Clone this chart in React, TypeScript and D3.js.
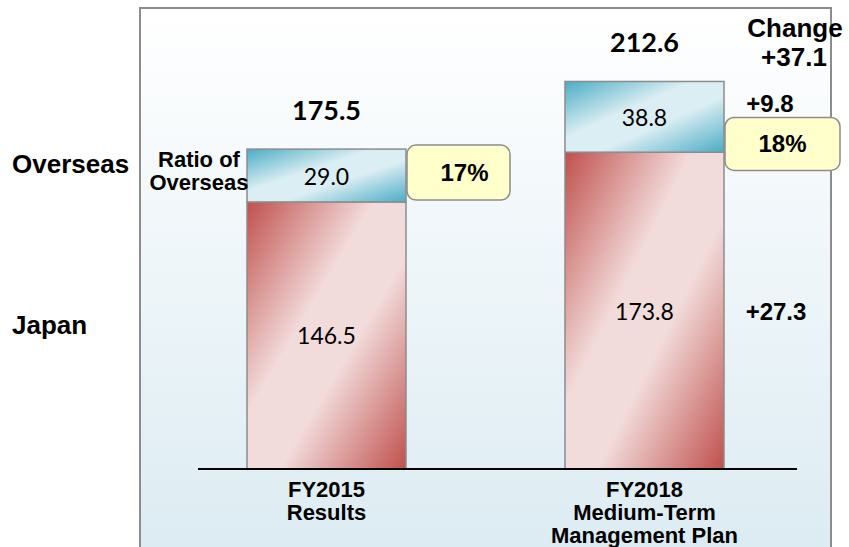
import { scaleBand, scaleLinear } from "d3"

// values (sales, billion yen)
const categories = ["FY2015", "FY2018"]
const categoryLines = [["FY2015", "Results"], ["FY2018", "Medium-Term", "Management Plan"]]
const japan = [146.5, 173.8]
const overseas = [29.0, 38.8]
const totals = [175.5, 212.6]
const ratios = ["17%", "18%"]
const changeTotal = "+37.1"
const changeOverseas = "+9.8"
const changeJapan = "+27.3"

const W = 849
const H = 547
const BASE = 469
const ARIAL = "'Liberation Sans', Arial, sans-serif"
const CALIBRI = "Lato, 'Open Sans', sans-serif"

function App() {
    const x = scaleBand().domain(categories).range([247, 724]).paddingInner(0.5)
    const y = scaleLinear().domain([0, 257.3]).range([BASE, 0])
    const bw = x.bandwidth()

    const bars = categories.map((c, i) => {
        const x0 = x(c) ?? 0
        const cx = x0 + bw / 2
        const jTop = y(japan[i])
        const oTop = y(japan[i] + overseas[i])
        return (
            <g key={c}>
                <rect x={x0} y={jTop} width={bw} height={BASE - jTop}
                    fill="url(#gradJapan)" stroke="#8c8c8c" strokeWidth={1.5} />
                <rect x={x0} y={oTop} width={bw} height={jTop - oTop}
                    fill="url(#gradOverseas)" stroke="#8c8c8c" strokeWidth={1.5} />
                <text x={cx} y={(jTop + BASE) / 2 + 9} textAnchor="middle"
                    fontFamily={CALIBRI} fontSize={23} fill="#000">
                    {japan[i].toFixed(1)}
                </text>
                <text x={cx} y={(oTop + jTop) / 2 + 9} textAnchor="middle"
                    fontFamily={CALIBRI} fontSize={23} fill="#000">
                    {overseas[i].toFixed(1)}
                </text>
                <text x={cx} y={y(totals[i]) - 29} textAnchor="middle"
                    fontFamily={CALIBRI} fontWeight={700} fontSize={27} fill="#000">
                    {totals[i].toFixed(1)}
                </text>
                {categoryLines[i].map((l, k) => (
                    <text key={k} x={cx} y={497 + k * 23} textAnchor="middle"
                        fontFamily={ARIAL} fontWeight={700} fontSize={22} fill="#000">
                        {l}
                    </text>
                ))}
            </g>
        )
    })

    // ratio call-outs next to the overseas segments
    const x1 = (x(categories[0]) ?? 0) + bw
    const x2 = (x(categories[1]) ?? 0) + bw
    const boxes = [
        { x: x1 + 1, y: y(totals[0]) - 4, w: 103, h: 55 },
        { x: x2 + 1, y: y(totals[1]) + 36, w: 115, h: 53 },
    ]

    return (
        <svg width={W} height={H} style={{ position: "absolute", left: 0, top: 0 }}>
            <defs>
                <linearGradient id="gradPanel" x1="0" y1="0" x2="0" y2="1">
                    <stop offset="0" stopColor="#ffffff" />
                    <stop offset="1" stopColor="#dbebf2" />
                </linearGradient>
                <linearGradient id="gradJapan" x1="0" y1="0" x2="1" y2="1">
                    <stop offset="0" stopColor="#c0504d" />
                    <stop offset="0.4" stopColor="#f2dcdb" />
                    <stop offset="0.6" stopColor="#f2dcdb" />
                    <stop offset="1" stopColor="#c0504d" />
                </linearGradient>
                <linearGradient id="gradOverseas" x1="0" y1="0" x2="1" y2="1">
                    <stop offset="0" stopColor="#4bacc6" />
                    <stop offset="0.4" stopColor="#dbeef3" />
                    <stop offset="0.6" stopColor="#dbeef3" />
                    <stop offset="1" stopColor="#4bacc6" />
                </linearGradient>
            </defs>
            <rect x={0} y={0} width={W} height={H} fill="#fff" />
            <rect x={140} y={8} width={691} height={560} fill="url(#gradPanel)"
                stroke="#8c8c8c" strokeWidth={2} />

            {bars}
            <line x1={198} x2={797} y1={BASE} y2={BASE} stroke="#000" strokeWidth={2} />

            {boxes.map((b, i) => (
                <g key={i}>
                    <rect x={b.x} y={b.y} width={b.w} height={b.h} rx={9}
                        fill="#ffffcc" stroke="#8c8c8c" strokeWidth={1.5} />
                    <text x={b.x + b.w / 2 + (i === 0 ? 6 : 0)} y={b.y + b.h / 2 + 8} textAnchor="middle"
                        fontFamily={ARIAL} fontWeight={700} fontSize={24} fill="#000">
                        {ratios[i]}
                    </text>
                </g>
            ))}

            <text x={12} y={173} fontFamily={ARIAL} fontWeight={700} fontSize={26}>Overseas</text>
            <text x={12} y={334} fontFamily={ARIAL} fontWeight={700} fontSize={26}>Japan</text>
            <text x={199} y={167} textAnchor="middle" fontFamily={ARIAL} fontWeight={700} fontSize={22}>Ratio of</text>
            <text x={199} y={190} textAnchor="middle" fontFamily={ARIAL} fontWeight={700} fontSize={22}>Overseas</text>

            <text x={795} y={37} textAnchor="middle" fontFamily={ARIAL} fontWeight={700} fontSize={26}>Change</text>
            <text x={794} y={66} textAnchor="middle" fontFamily={ARIAL} fontWeight={700} fontSize={26}>{changeTotal}</text>
            <text x={770} y={y(totals[1]) + 31} textAnchor="middle" fontFamily={ARIAL} fontWeight={700} fontSize={24}>{changeOverseas}</text>
            <text x={776} y={(y(japan[1]) + BASE) / 2 + 9} textAnchor="middle" fontFamily={ARIAL} fontWeight={700} fontSize={24}>{changeJapan}</text>
        </svg>
    )
}

export default App
